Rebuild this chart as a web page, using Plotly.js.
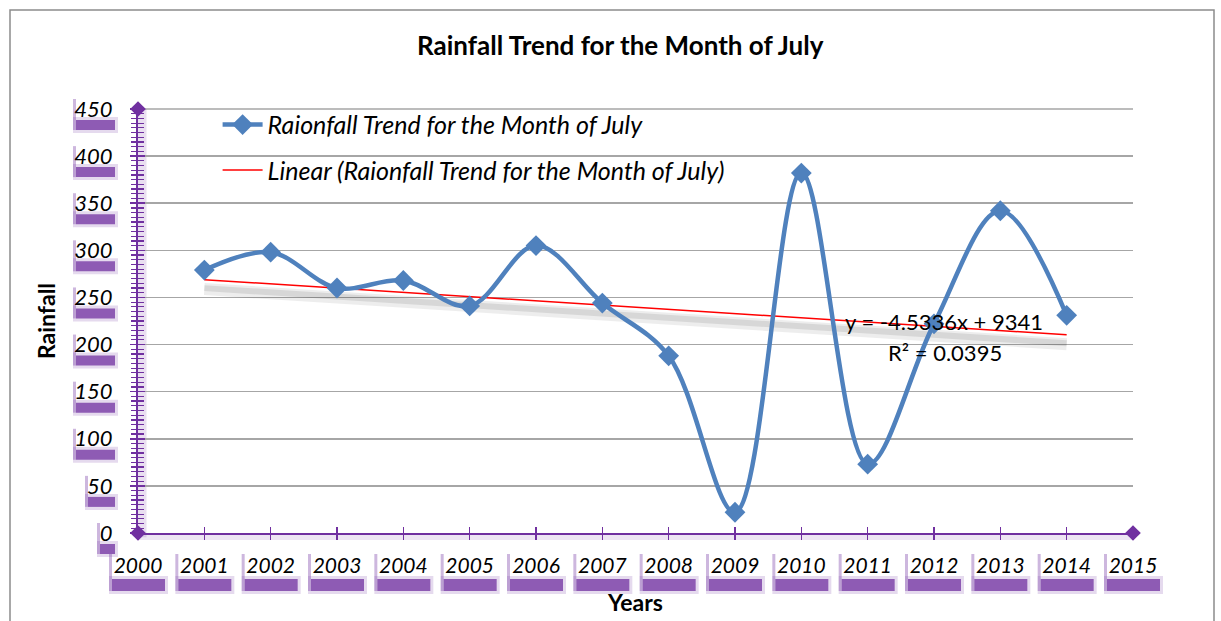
<!DOCTYPE html>
<html>
<head>
<meta charset="utf-8">
<script src="https://cdn.plot.ly/plotly-3.0.1.min.js"></script>
<style>html,body{margin:0;padding:0;background:#fff;}#chart{width:1221px;height:621px;}</style>
</head>
<body>
<div id="chart"></div>
<script>
// ---- data ----
const years = [2001, 2002, 2003, 2004, 2005, 2006, 2007, 2008, 2009, 2010, 2011, 2012, 2013, 2014];
const rainfall = [279, 298, 260, 268, 241, 305, 244, 188, 22, 382, 73, 222, 342, 231];
const xTickVals = [2000, 2001, 2002, 2003, 2004, 2005, 2006, 2007, 2008, 2009, 2010, 2011, 2012, 2013, 2014, 2015];
const xTickText = ["2000", "2001", "2002", "2003", "2004", "2005", "2006", "2007", "2008", "2009", "2010", "2011", "2012", "2013", "2014", "2015"];
const yTickVals = [0, 50, 100, 150, 200, 250, 300, 350, 400, 450];
const yTickText = ["0", "50", "100", "150", "200", "250", "300", "350", "400", "450"];
const seriesName = "Raionfall Trend for the Month of July";
const trendName = "Linear (Raionfall Trend for the Month of July)";
const equationText = "y = -4.5336x + 9341";
const r2Text = "R² = 0.0395";
const titleText = "Rainfall Trend for the Month of July";
const xTitle = "Years";
const yTitle = "Rainfall";

// ---- linear trend from the data ----
const n = years.length;
const mx = years.reduce((a, b) => a + b, 0) / n;
const my = rainfall.reduce((a, b) => a + b, 0) / n;
let sxy = 0, sxx = 0;
for (let i = 0; i < n; i++) { sxy += (years[i] - mx) * (rainfall[i] - my); sxx += (years[i] - mx) ** 2; }
const slope = sxy / sxx, intercept = my - slope * mx;
const trendX = [years[0], years[n - 1]];
const trendY = trendX.map(x => intercept + slope * x);

const xRange = [xTickVals[0], xTickVals[xTickVals.length - 1]];
const yRange = [yTickVals[0], yTickVals[yTickVals.length - 1]];
const xFrac = v => (v - xRange[0]) / (xRange[1] - xRange[0]);
const yFrac = v => (v - yRange[0]) / (yRange[1] - yRange[0]);

const PURPLE = "#7030A0";
const BLUE = "#4F81BD";
const FONT = "Lato, 'Open Sans', sans-serif";

const traces = [
  { x: trendX, y: trendY.map(v => v - 10), mode: "lines", line: { color: "rgba(0,0,0,0.07)", width: 12 },
    showlegend: false, hoverinfo: "skip" },
  { x: trendX, y: trendY.map(v => v - 9), mode: "lines", line: { color: "rgba(0,0,0,0.09)", width: 6 },
    showlegend: false, hoverinfo: "skip" },
  { x: trendX, y: trendY, mode: "lines", name: trendName, line: { color: "#FF0000", width: 1.5 },
    legendgroup: "b", legendrank: 2 },
  { x: years, y: rainfall, mode: "lines+markers", name: seriesName,
    line: { color: BLUE, width: 4.5, shape: "spline", smoothing: 1 },
    marker: { symbol: "diamond", size: 16, color: BLUE }, legendgroup: "a", legendrank: 1 },
  { x: [xRange[0], xRange[0], xRange[1]], y: [yRange[1], yRange[0], yRange[0]], xaxis: "x2", yaxis: "y2",
    mode: "markers", marker: { symbol: "diamond", size: 12, color: PURPLE }, cliponaxis: false,
    showlegend: false, hoverinfo: "skip" }
];

// decorative label boxes (purple shadow under each tick label)
const shapes = [];
function pxRect(xa, ya, x0, x1, y0, y1, op) {
  shapes.push({ type: "rect", xref: "paper", xsizemode: "pixel", xanchor: xa, x0: x0, x1: x1,
    yref: "paper", ysizemode: "pixel", yanchor: ya, y0: y0, y1: y1,
    fillcolor: PURPLE, opacity: op, line: { width: 0 }, layer: "below" });
}
yTickText.forEach((t, i) => {
  const ya = yFrac(yTickVals[i]);
  const w = 12 * t.length + 3;
  pxRect(0, ya, -23 - w - 3, -20, -24, -8, 0.18);
  pxRect(0, ya, -23 - w, -23, -21, -11, 0.75);
  pxRect(0, ya, -23 - w - 3, -23 - w, -21, 10, 0.35);
});
xTickVals.forEach((v) => {
  const xa = xFrac(v);
  pxRect(xa, 0, -29, 30, -61, -43, 0.18);
  pxRect(xa, 0, -26, 27, -58, -46, 0.75);
  pxRect(xa, 0, -29, -26, -58, -21, 0.35);
});
// top gridline (at the end of the range)
shapes.push({ type: "line", xref: "paper", yref: "paper", x0: 0, x1: 1, y0: yFrac(yRange[1]), y1: yFrac(yRange[1]),
  line: { color: "#a6a6a6", width: 1.5 }, layer: "below" });
// axis glow
shapes.push({ type: "line", xref: "paper", yref: "paper", x0: 0.004, x1: 0.004, y0: -0.01, y1: 1.0,
  line: { color: PURPLE, width: 9 }, opacity: 0.15, layer: "below" });
shapes.push({ type: "line", xref: "paper", yref: "paper", x0: 0, x1: 1.0, y0: -0.008, y1: -0.008,
  line: { color: PURPLE, width: 7 }, opacity: 0.12, layer: "below" });
// outer chart border
shapes.push({ type: "rect", xref: "paper", yref: "paper", x0: (10 - 138) / 995, x1: (1214 - 138) / 995,
  y0: -0.3, y1: (533 - 10) / 424, line: { color: "#8c8c8c", width: 1.5 }, fillcolor: "rgba(0,0,0,0)", layer: "below" });

const layout = {
  width: 1221, height: 621,
  margin: { l: 138, r: 88, t: 109, b: 88 },
  paper_bgcolor: "#ffffff", plot_bgcolor: "rgba(0,0,0,0)",
  font: { family: FONT, color: "#000000" },
  title: { text: titleText, font: { family: FONT, size: 26, weight: "bold", color: "#000" },
    x: 0.508, xref: "container", xanchor: "center", y: 1 - 46 / 621, yref: "container", yanchor: "middle" },
  xaxis: {
    range: xRange, tickmode: "array", tickvals: xTickVals, ticktext: xTickText,
    showgrid: false, zeroline: false, showline: true, linecolor: PURPLE, linewidth: 2,
    ticks: "inside", ticklen: 6, tickwidth: 1.5, tickcolor: PURPLE,
    tickfont: { family: FONT, size: 21, style: "italic", color: "#000" }, ticklabelstandoff: 13,
    title: { text: xTitle, font: { family: FONT, size: 23, weight: "bold" }, standoff: 19 },
    fixedrange: true
  },
  yaxis: {
    range: yRange, tickmode: "array", tickvals: yTickVals, ticktext: yTickText,
    showgrid: true, gridcolor: "#a6a6a6", gridwidth: 1.5, zeroline: false,
    showline: true, linecolor: PURPLE, linewidth: 2,
    ticks: "inside", ticklen: 7, tickwidth: 1.5, tickcolor: PURPLE,
    minor: { tickmode: "linear", tick0: 0, dtick: 5, ticks: "inside", ticklen: 6, tickwidth: 1.2, tickcolor: PURPLE, showgrid: false },
    tickfont: { family: FONT, size: 22, style: "italic", color: "#000" }, ticklabelstandoff: 19,
    title: { text: yTitle, font: { family: FONT, size: 23, weight: "bold" }, standoff: 12 },
    fixedrange: true
  },
  xaxis2: { overlaying: "x", anchor: "y2", side: "bottom", range: xRange, tickmode: "array", tickvals: xTickVals,
    showticklabels: false, showgrid: false, zeroline: false, showline: false,
    ticks: "outside", ticklen: 6, tickwidth: 1.5, tickcolor: PURPLE, fixedrange: true },
  yaxis2: { overlaying: "y", anchor: "x2", side: "left", range: yRange, tickmode: "array", tickvals: yTickVals,
    showticklabels: false, showgrid: false, zeroline: false, showline: false,
    ticks: "outside", ticklen: 7, tickwidth: 1.5, tickcolor: PURPLE,
    minor: { tickmode: "linear", tick0: 0, dtick: 5, ticks: "outside", ticklen: 6, tickwidth: 1.2, tickcolor: PURPLE, showgrid: false },
    fixedrange: true },
  legend: { x: 0.08, xanchor: "left", y: 1.017, yanchor: "top", bgcolor: "rgba(0,0,0,0)",
    font: { family: FONT, size: 25, style: "italic", color: "#000" }, tracegroupgap: 10, itemwidth: 40 },
  shapes: shapes,
  annotations: [
    { text: equationText, xref: "x", yref: "y", x: 2012.15, y: 224, showarrow: false,
      font: { family: FONT, size: 22, color: "#000" }, xanchor: "center", yanchor: "middle" },
    { text: r2Text, xref: "x", yref: "y", x: 2012.17, y: 192, showarrow: false,
      font: { family: FONT, size: 22, color: "#000" }, xanchor: "center", yanchor: "middle" }
  ],
  showlegend: true
};

Plotly.newPlot("chart", traces, layout, { displayModeBar: false, staticPlot: true });
</script>
</body>
</html>
